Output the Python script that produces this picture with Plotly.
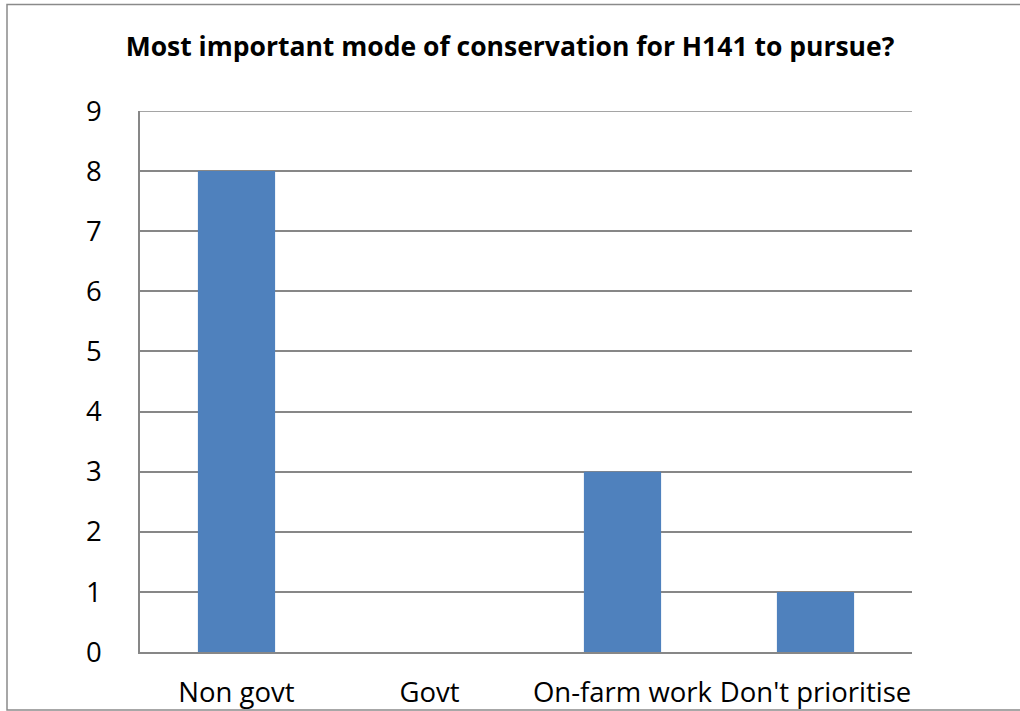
import plotly.graph_objects as go

# Survey responses: preferred conservation mode for H141
categories = ["Non govt", "Govt", "On-farm work", "Don't prioritise"]
counts = [8, 0, 3, 1]
y_ticks = [0, 1, 2, 3, 4, 5, 6, 7, 8, 9]

W, H = 1020, 711
L, R, T, B = 140, 108, 111, 59
plot_w, plot_h = W - L - R, H - T - B

grid_col = "#878787"
font_family = "Open Sans, Noto Sans, sans-serif"

fig = go.Figure(
    go.Bar(
        x=categories,
        y=counts,
        marker=dict(color="#4F81BD", line=dict(width=0)),
        width=0.4,
    )
)

fig.update_layout(
    width=W,
    height=H,
    margin=dict(l=L, r=R, t=T, b=B, autoexpand=False),
    paper_bgcolor="white",
    plot_bgcolor="white",
    showlegend=False,
    title=dict(
        text="<b>Most important mode of conservation for H141 to pursue?</b>",
        x=0.5,
        xanchor="center",
        y=1 - 47 / H,
        yanchor="middle",
        font=dict(family=font_family, size=26.5, color="black"),
    ),
    font=dict(family=font_family, color="black"),
    xaxis=dict(
        automargin=False,
        showgrid=False,
        showline=True,
        linecolor=grid_col,
        linewidth=1.5,
        ticks="",
        tickfont=dict(size=27.5, color="black"),
        ticklabelstandoff=15,
    ),
    yaxis=dict(
        automargin=False,
        range=[0, 9],
        tickvals=y_ticks,
        showgrid=True,
        gridcolor=grid_col,
        gridwidth=1.5,
        zeroline=False,
        showline=True,
        linecolor=grid_col,
        linewidth=1.5,
        ticks="",
        tickfont=dict(size=27.5, color="black"),
        ticklabelstandoff=31,
    ),
)

# Gridline at the top of the value range
fig.add_shape(
    type="line",
    xref="paper",
    yref="y",
    x0=0,
    x1=1,
    y0=y_ticks[-1],
    y1=y_ticks[-1],
    line=dict(color=grid_col, width=1.5),
    layer="below",
)

# Outer chart-area frame (right edge falls outside the page)
fig.add_shape(
    type="rect",
    xref="paper",
    yref="paper",
    x0=(7 - L) / plot_w,
    x1=(W + 10 - L) / plot_w,
    y0=-(710 - T - plot_h) / plot_h,
    y1=1 + (T - 4.5) / plot_h,
    line=dict(color="#8a8a8a", width=1.5),
    fillcolor="rgba(0,0,0,0)",
    layer="below",
)

fig.write_html("out.html")
